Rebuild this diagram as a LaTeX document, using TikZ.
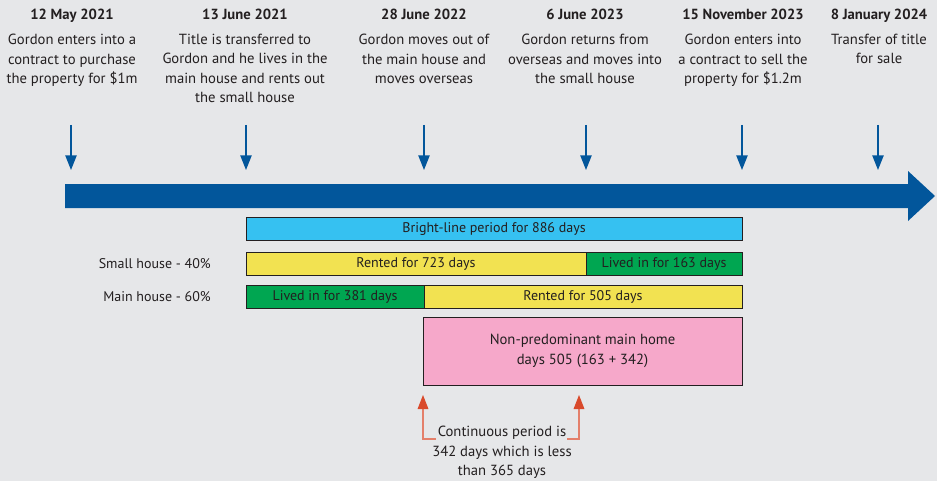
\documentclass[tikz,border=0pt]{standalone}
\usepackage{fontspec}
\setmainfont{PT Sans}
\usepackage{tikz}
\usetikzlibrary{arrows.meta, positioning, calc}
\usepackage{xcolor}
\definecolor{canvas}{HTML}{E6E7E9}
\definecolor{ink}{HTML}{231F20}
\definecolor{timeblue}{HTML}{02569B}
\definecolor{brightline}{HTML}{36C1F1}
\definecolor{rented}{HTML}{F2E251}
\definecolor{livedin}{HTML}{00A651}
\definecolor{nonmain}{HTML}{F6A8CA}
\definecolor{pointer}{HTML}{D94A2C}

\begin{document}
\begin{tikzpicture}[
    x=0.75pt, y=-0.75pt,
    date/.style={
        anchor=base, inner sep=0pt, text=ink,
        font=\bfseries\fontsize{11}{12}\selectfont
    },
    event/.style={
        anchor=north, inner sep=0pt, align=center, text=ink,
        font=\fontsize{11}{14.5}\selectfont
    },
    bar/.style={draw=ink, line width=0.7pt},
    barlabel/.style={text=ink, inner sep=0pt, font=\fontsize{10.5}{12}\selectfont},
    rowlabel/.style={anchor=east, inner sep=0pt, text=ink, font=\fontsize{10.5}{12}\selectfont},
    tick/.style={-{Triangle[length=11pt, width=8.5pt]}, line width=1pt, timeblue},
    redarr/.style={-{Triangle[length=10.5pt, width=8pt, color=pointer]}, line width=0.8pt, pointer!70!white},
]

\useasboundingbox[fill=canvas] (0,0) rectangle (937,481);

% ── Events ──────
\node[date] (d1) at (72,20)  {12 May 2021};
\node[date] (d2) at (245,20) {13 June 2021};
\node[date] (d3) at (424,20) {28 June 2022};
\node[date] (d4) at (585,20) {6 June 2023};
\node[date] (d5) at (743,20) {15 November 2023};
\node[date] (d6) at (879,20) {8 January 2024};

\node[event] (e1) at (72,34)  {Gordon enters into a\\contract to purchase\\the property for \$1m};
\node[event] (e2) at (245,34) {Title is transferred to\\Gordon and he lives in the\\main house and rents out\\the small house};
\node[event] (e3) at (424,34) {Gordon moves out of\\the main house and\\moves overseas};
\node[event] (e4) at (585,34) {Gordon returns from\\overseas and moves into\\the small house};
\node[event] (e5) at (743,34) {Gordon enters into\\a contract to sell the\\property for \$1.2m};
\node[event] (e6) at (879,34) {Transfer of title\\for sale};

% ── Timeline ──────
\fill[timeblue] (65,184) -- (908,184) -- (908,171) -- (935,196)
    -- (908,221) -- (908,208) -- (65,208) -- cycle;

\foreach \x [count=\i] in {71,246,424,586,742,878} {
    \coordinate (top\i) at (\x,125);
    \coordinate (tip\i) at (\x,170);
    \draw[tick] (top\i) -- (tip\i);
}

% ── Periods ──────
\draw[bar, fill=brightline] (246,217) rectangle (742,240)
    node[barlabel, midway] (bright) {Bright-line period for 886 days};

\node[rowlabel] (small) at (211,264) {Small house - 40\%};
\draw[bar, fill=rented] (246,252) rectangle (586,275)
    node[barlabel, midway] (srent) {Rented for 723 days};
\draw[bar, fill=livedin] (586,252) rectangle (742,275)
    node[barlabel, midway] (slive) {Lived in for 163 days};

\node[rowlabel] (main) at (211,297) {Main house - 60\%};
\draw[bar, fill=livedin] (246,285) rectangle (424,308)
    node[barlabel, midway] (mlive) {Lived in for 381 days};
\draw[bar, fill=rented] (424,285) rectangle (742,308)
    node[barlabel, midway] (mrent) {Rented for 505 days};

\draw[bar, fill=nonmain] (423,317) rectangle (742,385)
    node[midway, barlabel, align=center, font=\fontsize{11}{15}\selectfont] (pink)
    {Non-predominant main home\\days 505 (163 + 342)};

% ── Continuous period ──────
\node[event] (cont) at (502,426) {Continuous period is\\342 days which is less\\than 365 days};

\coordinate (lstart) at (436,439);
\coordinate (lend) at (423,395);
\coordinate (rstart) at (567,439);
\coordinate (rend) at (579,395);
\draw[redarr] (lstart) -| (lend);
\draw[redarr] (rstart) -| (rend);

\end{tikzpicture}
\end{document}
